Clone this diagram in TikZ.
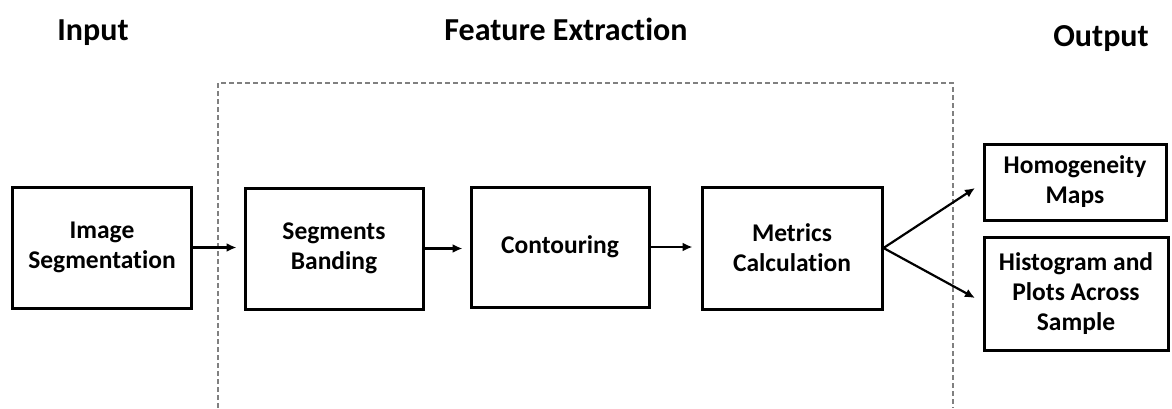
\documentclass[tikz,border=0pt]{standalone}
\usepackage{fontspec}
\setmainfont[Ligatures=NoCommon]{Carlito}
\usetikzlibrary{arrows.meta}
\begin{document}
\begin{tikzpicture}[x=1pt,y=-1pt,
  box/.style={draw, line width=3pt, align=center, inner sep=0pt,
    font=\bfseries\fontsize{25.5}{30}\selectfont},
  arr/.style={line width=2.2pt, -{Latex[length=10pt,width=9pt]}},
  title/.style={font=\bfseries\fontsize{32}{36}\selectfont, anchor=base},
  frame/.style={draw=gray, line width=1.2pt, dash pattern=on 5pt off 3pt}]
\useasboundingbox (0,0) rectangle (1172,408);
\coordinate (fb1) at (218,408);
\coordinate (ft1) at (218,83);
\coordinate (ft2) at (953,83);
\coordinate (fb2) at (953,408);
\draw[frame] (fb1) -- (ft1) -- (ft2) -- (fb2);
\node[title] (tin) at (93,40) {Input};
\node[title] (tfe) at (566,40) {Feature Extraction};
\node[title] (tout) at (1101,46) {Output};
\node[box, minimum width=179pt, minimum height=121pt] (img) at (102,247.5) {Image\\Segmentation};
\node[box, minimum width=178pt, minimum height=121pt] (seg) at (334,248.5) {Segments\\Banding};
\node[box, minimum width=178pt, minimum height=120pt] (cont) at (560,247) {Contouring};
\node[box, minimum width=180pt, minimum height=122pt] (met) at (792,248) {Metrics\\Calculation};
\node[box, minimum width=182pt, minimum height=76pt] (hom) at (1075,182) {Homogeneity\\Maps};
\node[box, minimum width=184pt, minimum height=113pt] (his) at (1076,293.5) {Histogram and\\Plots Across\\Sample};
\coordinate (t1) at (975,188);
\coordinate (t2) at (975,298);
\draw[arr, shorten >=7pt] (img.east) -- (img.east -| seg.west);
\draw[arr, shorten >=7pt] (seg.east) -- (seg.east -| cont.west);
\draw[arr, shorten >=8pt] (cont.east) -- (cont.east -| met.west);
\draw[arr] (met.east) -- (t1);
\draw[arr] (met.east) -- (t2);
\end{tikzpicture}
\end{document}
